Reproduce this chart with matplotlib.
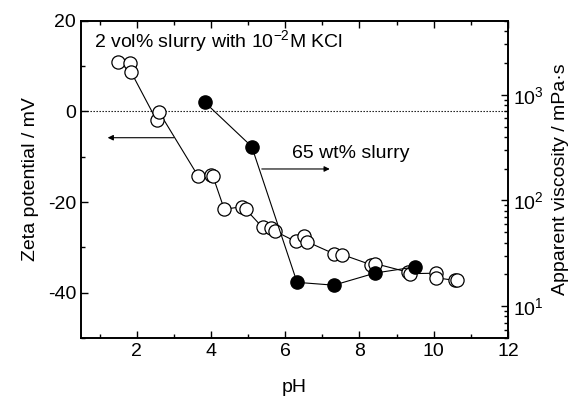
import matplotlib
matplotlib.use("Agg")
import matplotlib.pyplot as plt
from matplotlib.ticker import MultipleLocator, LogLocator, NullFormatter

plt.rcParams['font.family'] = ['Liberation Sans', 'DejaVu Sans']
plt.rcParams['mathtext.fontset'] = 'custom'
plt.rcParams['mathtext.rm'] = 'Liberation Sans'
plt.rcParams['axes.unicode_minus'] = False

# 2 vol% slurry: zeta potential (mV) vs pH
ph_zeta = [1.51, 1.83, 1.85, 2.54, 2.61, 3.65, 4.00, 4.05, 4.36, 4.85, 4.94,
           5.39, 5.61, 5.72, 6.28, 6.52, 6.60, 7.31, 7.54, 8.30, 8.43, 9.32,
           9.37, 10.06, 10.06, 10.58, 10.64]
zeta = [10.8, 10.7, 8.7, -2.0, -0.2, -14.2, -14.0, -14.2, -21.6, -21.0, -21.6,
        -25.6, -25.8, -26.4, -28.7, -27.6, -28.8, -31.4, -31.6, -33.8, -33.6,
        -35.5, -35.8, -35.7, -36.7, -37.3, -37.2]

# 65 wt% slurry: apparent viscosity (mPa s) vs pH
ph_visc = [3.83, 5.10, 6.32, 7.31, 8.43, 9.50]
visc = [852, 323, 16.8, 15.8, 20.6, 23.5]

fig = plt.figure(figsize=(5.74, 4.0), dpi=100)
ax = fig.add_axes([0.141, 0.155, 0.744, 0.793])

ax.axhline(0, color='black', linestyle=(0, (1.2, 1.5)), linewidth=0.8, zorder=1)
ax.plot(ph_zeta, zeta, '-o', color='black', linewidth=0.8, markersize=9.5,
        markerfacecolor='white', markeredgecolor='black', markeredgewidth=0.9, zorder=3)

ax.set_xlim(0.5, 12)
ax.set_ylim(-50, 20)
ax.xaxis.set_major_locator(MultipleLocator(2))
ax.xaxis.set_minor_locator(MultipleLocator(1))
ax.yaxis.set_major_locator(MultipleLocator(20))
ax.yaxis.set_minor_locator(MultipleLocator(10))
ax.tick_params(which='both', direction='in', top=True, labelsize=14, width=1.0)
ax.tick_params(which='major', length=5)
ax.tick_params(which='minor', length=3)
ax.set_xlabel('pH', fontsize=14, labelpad=14)
ax.set_ylabel('Zeta potential / mV', fontsize=14, labelpad=6)
for s in ax.spines.values():
    s.set_linewidth(1.2)

# arrows pointing to the axis each series belongs to
ax.annotate('', xy=(1.22, -5.8), xytext=(3.0, -5.8),
            arrowprops=dict(arrowstyle='-|>', color='black', lw=0.8,
                            mutation_scale=8, shrinkA=0, shrinkB=0))
ax.annotate('', xy=(7.2, -12.7), xytext=(5.37, -12.7),
            arrowprops=dict(arrowstyle='-|>', color='black', lw=0.8,
                            mutation_scale=8, shrinkA=0, shrinkB=0))
ax.text(0.84, 15.3, r'2 vol% slurry with 10$^{-2}$M KCl', fontsize=14, va='center')
ax.text(6.19, -9.3, '65 wt% slurry', fontsize=14, va='center')

ax2 = ax.twinx()
ax2.set_yscale('log')
ax2.plot(ph_visc, visc, '-o', color='black', linewidth=0.8, markersize=9.5,
         markerfacecolor='black', markeredgecolor='black', zorder=4)
ax2.set_ylim(5, 5000)
ax2.yaxis.set_major_locator(LogLocator(base=10, numticks=10))
ax2.yaxis.set_minor_locator(LogLocator(base=10, subs=range(2, 10), numticks=10))
ax2.yaxis.set_minor_formatter(NullFormatter())
ax2.tick_params(which='both', direction='in', labelsize=14, width=1.0)
ax2.tick_params(which='major', length=5)
ax2.tick_params(which='minor', length=3)
ax2.set_ylabel('Apparent viscosity / mPa·s', fontsize=14, labelpad=6)
for s in ax2.spines.values():
    s.set_linewidth(1.2)

fig.savefig('out.png', dpi=100)
